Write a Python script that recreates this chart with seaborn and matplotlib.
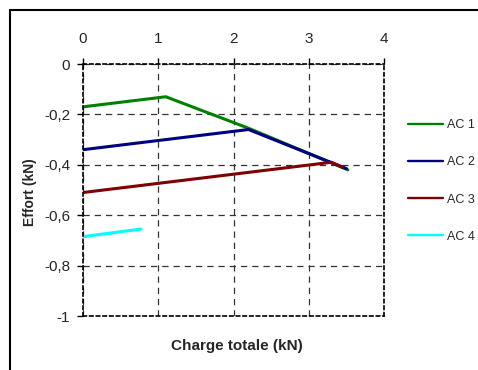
import numpy as np
import pandas as pd
import matplotlib
matplotlib.use("Agg")
import matplotlib.pyplot as plt
import seaborn as sns
from matplotlib.patches import Rectangle

# data
ac1_x = [0.0, 1.1, 2.2, 3.52]
ac1_y = [-0.17, -0.13, -0.255, -0.42]
ac2_x = [0.0, 2.2, 3.5]
ac2_y = [-0.34, -0.26, -0.415]
ac3_x = [0.0, 3.3, 3.45]
ac3_y = [-0.51, -0.39, -0.41]
ac4_x = [0.0, 0.77]
ac4_y = [-0.685, -0.655]
series = ["AC 1", "AC 2", "AC 3", "AC 4"]
colors = ["#008000", "#000080", "#800000", "#00FFFF"]

frames = []
for name, xs, ys in zip(series, [ac1_x, ac2_x, ac3_x, ac4_x], [ac1_y, ac2_y, ac3_y, ac4_y]):
    frames.append(pd.DataFrame({"x": xs, "y": ys, "serie": name}))
df = pd.concat(frames, ignore_index=True)

sns.set_style("white")
plt.rcParams['font.family'] = ['Liberation Sans', 'DejaVu Sans']

fig = plt.figure(figsize=(4.78, 3.70), dpi=100)
ax = fig.add_axes([83/478, 1 - 316/370, (384 - 83)/478, (316 - 64)/370])

sns.lineplot(data=df, x="x", y="y", hue="serie", palette=colors, sort=False,
             estimator=None, linewidth=2.2, ax=ax, legend=True)

ax.set_xlim(0, 4)
ax.set_ylim(-1, 0)
ax.set_xticks([0, 1, 2, 3, 4])
ax.set_yticks([0, -0.2, -0.4, -0.6, -0.8, -1])
ax.set_yticklabels(["0", "-0,2", "-0,4", "-0,6", "-0,8", "-1"])
ax.xaxis.tick_top()
ax.tick_params(axis="both", labelsize=11, length=4.3, width=1, color="black",
               direction="out")
ax.tick_params(axis="x", top=True, bottom=False, pad=9)
ax.tick_params(axis="y", left=True, pad=5)
ax.grid(True, color="#333333", linestyle=(0, (5, 4)), linewidth=0.9)

for s in ax.spines.values():
    s.set_color("black")
    s.set_linewidth(1.2)
    s.set_linestyle((0, (2, 2)))

ax.set_xlabel("Charge totale (kN)", fontsize=11, fontweight="bold", labelpad=0)
ax.xaxis.set_label_position("bottom")
ax.xaxis.set_label_coords(0.51, -0.09)
ax.set_ylabel("Effort (kN)", fontsize=10, fontweight="bold")
ax.yaxis.set_label_coords(-0.152, 0.49)

handles, labels = ax.get_legend_handles_labels()
leg = fig.legend(handles, labels, loc="upper left", bbox_to_anchor=(408/478, 1 - 119/370),
                 bbox_transform=fig.transFigure, frameon=False, fontsize=9,
                 handlelength=2.8, handletextpad=0.32, labelspacing=2.02,
                 borderpad=0, borderaxespad=0)
for h in leg.get_lines():
    h.set_linewidth(1.7)
ax.get_legend().remove()

fig.patches.append(Rectangle((10/478, -0.1), 1.2, 1 - 10/370 + 0.1,
                             transform=fig.transFigure, fill=False,
                             edgecolor="black", linewidth=1.5))

fig.savefig("out.png", dpi=100)
